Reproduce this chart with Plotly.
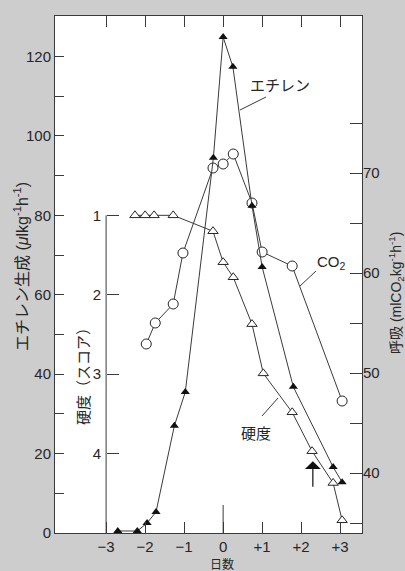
import plotly.graph_objects as go

# ---------------- data ----------------
eth_day = [-2.7, -2.2, -1.95, -1.72, -1.25, -0.97, -0.25, 0.0, 0.25, 0.74, 1.0, 1.8, 2.82, 3.05]
eth_val = [0.5, 0.5, 2.5, 5.3, 27.0, 35.5, 94.5, 124.9, 117.4, 82.4, 67.0, 36.8, 16.6, 12.8]

co2_day = [-1.97, -1.74, -1.28, -1.03, -0.26, 0.0, 0.26, 0.74, 1.0, 1.77, 3.05]
co2_val = [52.9, 55.0, 56.9, 62.0, 70.5, 70.9, 71.9, 67.0, 62.1, 60.7, 47.2]

hard_day = [-2.26, -2.0, -1.77, -1.28, -0.26, 0.0, 0.26, 0.74, 1.03, 1.77, 2.28, 2.82, 3.05]
hard_val = [1.0, 1.0, 1.0, 1.0, 1.2, 1.59, 1.78, 2.37, 2.99, 3.48, 3.97, 4.37, 4.84]

x_tickvals = [-3, -2, -1, 0, 1, 2, 3]
x_ticktext = ["−3", "−2", "−1", "0", "+1", "+2", "+3"]
eth_tickvals = [0, 20, 40, 60, 80, 100, 120]
eth_minor = [10, 30, 50, 70, 90, 110]
resp_tickvals = [40, 50, 60, 70]
resp_minor = [35, 45, 55, 65, 75]
hard_tickvals = [1, 2, 3, 4]
arrow_day = 2.3
arrow_tip, arrow_tail = 18.1, 11.3

# ---------------- layout helpers ----------------
W, H = 405, 571
L, R, T, B = 55, 43, 16, 38
PW, PH = W - L - R, H - T - B


def px(x):
    return (x - L) / PW


def py(y):
    return (H - B - y) / PH


FONT = "Liberation Sans, Arial, Noto Sans CJK JP, sans-serif"
JFONT = "Noto Sans CJK JP, Liberation Sans, sans-serif"
INK = "#262626"
LINE = "#3a3a3a"

fig = go.Figure()

fig.add_trace(go.Scatter(
    x=co2_day, y=co2_val, yaxis="y2", mode="lines+markers",
    line=dict(color=LINE, width=1),
    marker=dict(symbol="circle", size=10, color="white", line=dict(color=INK, width=1)),
    showlegend=False, cliponaxis=False))

fig.add_trace(go.Scatter(
    x=hard_day, y=hard_val, yaxis="y3", mode="lines+markers",
    line=dict(color=LINE, width=1),
    marker=dict(symbol="triangle-up", size=9, color="white", line=dict(color=INK, width=1)),
    showlegend=False, cliponaxis=False))

fig.add_trace(go.Scatter(
    x=eth_day, y=eth_val, yaxis="y4", mode="lines+markers",
    line=dict(color=LINE, width=1),
    marker=dict(symbol="triangle-up", size=8, color="#111111"),
    showlegend=False, cliponaxis=False))

x_range = [-4.31, 3.56]
eth_range = [0, 130.2]
tickfont = dict(size=15, color=INK, family=FONT)

fig.update_layout(
    width=W, height=H,
    margin=dict(l=L, r=R, t=T, b=B, pad=0),
    paper_bgcolor="#cdcdcd", plot_bgcolor="white",
    font=dict(family=FONT, size=15, color=INK),
    showlegend=False,
    xaxis=dict(range=x_range, tickvals=x_tickvals, ticktext=x_ticktext,
               ticks="inside", ticklen=11, tickcolor=LINE, tickwidth=1,
               showline=True, linecolor=LINE, linewidth=1, mirror="ticks",
               showgrid=False, zeroline=False, tickfont=tickfont),
    yaxis=dict(range=eth_range, tickvals=eth_tickvals,
               ticks="inside", ticklen=9, tickcolor=LINE,
               minor=dict(tickvals=eth_minor, ticks="inside", ticklen=9, tickcolor=LINE),
               showline=True, linecolor=LINE, linewidth=1, mirror=True,
               showgrid=False, zeroline=False, tickfont=tickfont),
    yaxis2=dict(range=[34.0, 85.7], overlaying="y", side="right",
                tickvals=resp_tickvals,
                ticks="inside", ticklen=12, tickcolor=LINE,
                minor=dict(tickvals=resp_minor, ticks="inside", ticklen=12, tickcolor=LINE),
                showline=False, showgrid=False, zeroline=False, tickfont=tickfont),
    yaxis3=dict(range=[5, -1.51], overlaying="y", side="left", anchor="free",
                position=px(106), tickvals=hard_tickvals,
                ticks="inside", ticklen=12, tickcolor=LINE, ticklabelstandoff=5,
                showline=False, showgrid=False, zeroline=False, tickfont=tickfont),
    yaxis4=dict(range=eth_range, overlaying="y", visible=False),
)

shapes = [
    # hardness axis line (from score 1 down to the baseline)
    dict(type="line", xref="x", yref="y3", x0=-3, x1=-3, y0=1, y1=5,
         line=dict(color=LINE, width=1)),
    # longer tick at day 0
    dict(type="line", xref="x", yref="paper", x0=0, x1=0, y0=0, y1=py(505),
         line=dict(color=LINE, width=1)),
    # leader lines
    dict(type="line", xref="paper", yref="paper", x0=px(240), y0=py(110), x1=px(266), y1=py(97),
         line=dict(color=LINE, width=1)),
    dict(type="line", xref="paper", yref="paper", x0=px(300), y0=py(286), x1=px(316), y1=py(271),
         line=dict(color=LINE, width=1)),
    dict(type="line", xref="paper", yref="paper", x0=px(262), y0=py(416), x1=px(278), y1=py(398),
         line=dict(color=LINE, width=1)),
]
fig.update_layout(shapes=shapes)

ann = [
    dict(text="エチレン", x=px(280), y=py(85), font=dict(family=JFONT, size=15, color=INK)),
    dict(text="CO<sub>2</sub>", x=px(331), y=py(262), font=dict(size=15, color=INK)),
    dict(text="硬度", x=px(256), y=py(432), font=dict(family=JFONT, size=15, color=INK)),
    dict(text="エチレン生成 (<i>μ</i>lkg<sup>-1</sup>h<sup>-1</sup>)", x=px(21), y=py(267),
         textangle=-90, font=dict(family=FONT, size=16, color=INK)),
    dict(text="呼吸 (mlCO<sub>2</sub>kg<sup>-1</sup>h<sup>-1</sup>)", x=px(396), y=py(293),
         textangle=-90, font=dict(family=FONT, size=14, color=INK)),
    dict(text="硬度（スコア）", x=px(82), y=py(373), textangle=-90,
         font=dict(family=JFONT, size=15, color=INK)),
    dict(text="日数", x=px(222), y=py(563.5), font=dict(family=JFONT, size=12, color=INK)),
]
for a in ann:
    fig.add_annotation(xref="paper", yref="paper", showarrow=False,
                       xanchor="center", yanchor="middle", **a)

fig.add_annotation(x=arrow_day, y=arrow_tip, xref="x", yref="y",
                   ax=arrow_day, ay=arrow_tail, axref="x", ayref="y",
                   text="", showarrow=True, arrowhead=1, arrowsize=2.2,
                   arrowwidth=1.2, arrowcolor="#111111", standoff=0)

fig.write_html("out.html", config={"displayModeBar": False},
               post_script="document.body.style.margin='0px';document.body.style.overflow='hidden';")
